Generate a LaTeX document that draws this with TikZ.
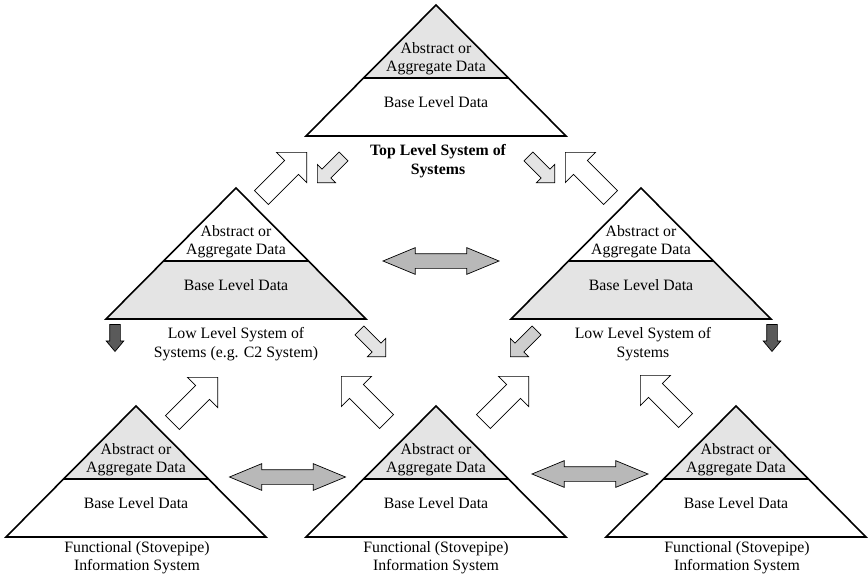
\documentclass[tikz,border=0pt]{standalone}
\usepackage{fontspec}
\setmainfont{Liberation Serif}
\usepackage{tikz}
\usetikzlibrary{shapes.arrows}
\definecolor{sosLight}{RGB}{228, 228, 228}
\definecolor{sosMid}{RGB}{206, 206, 206}
\definecolor{sosPeer}{RGB}{184, 184, 184}
\definecolor{sosDark}{RGB}{90, 90, 90}
\tikzset{
    base/.style={
        font=\fontsize{15.8}{18.4}\selectfont,
        align=center,
        inner sep=0pt
    },
    title/.style={
        base,
        font=\fontsize{15.8}{18.4}\selectfont\bfseries
    },
    layer/.style={
        line width=1.6pt,
        line join=miter
    },
    lift/.style={
        single arrow,
        single arrow head extend=11.5pt,
        single arrow tip angle=90,
        draw=black,
        fill=white,
        line width=0.7pt,
        inner xsep=0pt,
        inner ysep=9.5pt,
        minimum height=64pt
    },
    feed/.style={
        lift,
        fill=sosLight,
        single arrow head extend=6.5pt,
        inner ysep=6pt,
        minimum height=37pt
    },
    drop/.style={
        lift,
        fill=sosDark,
        single arrow tip angle=80,
        single arrow head extend=3.5pt,
        inner ysep=5pt,
        minimum height=27pt
    },
    peer/.style={
        double arrow,
        double arrow head extend=6pt,
        double arrow tip angle=45,
        draw=black,
        fill=sosPeer,
        line width=0.7pt,
        inner xsep=0pt,
        inner ysep=7pt,
        minimum height=116pt
    }
}

\begin{document}
\begin{tikzpicture}[x=1pt, y=-1pt]
  \useasboundingbox (0,0) rectangle (868,579);

  % The pyramids: name/apex x/apex y/upper fill/lower fill
  \foreach \sys/\px/\py/\upper/\lower in {top/436/5/sosLight/white, lowL/236/188/white/sosLight, lowR/641/188/white/sosLight, funA/136/406/sosLight/white, funB/436/406/sosLight/white, funC/736/406/sosLight/white}{
    \fill[\lower] (\px-130,\py+131) -- (\px+130,\py+131) -- (\px+72.4,\py+73) -- (\px-72.4,\py+73) -- cycle;
    \fill[\upper] (\px,\py) -- (\px+72.4,\py+73) -- (\px-72.4,\py+73) -- cycle;
    \draw[layer] (\px,\py) -- (\px+130,\py+131) -- (\px-130,\py+131) -- cycle;
    \draw[layer] (\px-72.4,\py+73) -- (\px+72.4,\py+73);
    \node[base] (\sys-abs) at (\px,\py+54) {Abstract or\\Aggregate Data};
    \node[base] (\sys-data) at (\px,\py+97) {Base Level Data};
  }

  % The captions
  \node[title] (top-cap) at (438,161) {Top Level System of\\Systems};
  \node[base] (lowL-cap) at (236,344) {Low Level System of\\Systems (e.g. C2 System)};
  \node[base] (lowR-cap) at (643,344) {Low Level System of\\Systems};
  \node[base] (funA-cap) at (137,558) {Functional (Stovepipe)\\Information System};
  \node[base] (funB-cap) at (436,558) {Functional (Stovepipe)\\Information System};
  \node[base] (funC-cap) at (737,558) {Functional (Stovepipe)\\Information System};

  % Going up
  \node[lift, rotate=45, anchor=tip] (upA) at (307,152) {};
  \node[lift, rotate=135, anchor=tip] (upB) at (565,152) {};
  \node[lift, rotate=45, anchor=tip] (upC) at (218,377) {};
  \node[lift, rotate=135, anchor=tip] (upD) at (341,376) {};
  \node[lift, rotate=45, anchor=tip] (upE) at (529,376) {};
  \node[lift, rotate=135, anchor=tip] (upF) at (640,375) {};

  % Going down
  \node[feed, rotate=225, anchor=tip] (downA) at (317,183) {};
  \node[feed, rotate=-45, anchor=tip] (downB) at (555,183) {};
  \node[feed, rotate=-45, anchor=tip] (downC) at (386,357) {};
  \node[feed, fill=sosMid, rotate=225, anchor=tip] (downD) at (510,357) {};
  \node[drop, rotate=-90, anchor=tip] (outA) at (115,352) {};
  \node[drop, rotate=-90, anchor=tip] (outB) at (772,352) {};

  % Between peers
  \node[peer] (peerA) at (441,261) {};
  \node[peer] (peerB) at (287.5,477) {};
  \node[peer] (peerC) at (590,474) {};
\end{tikzpicture}
\end{document}
